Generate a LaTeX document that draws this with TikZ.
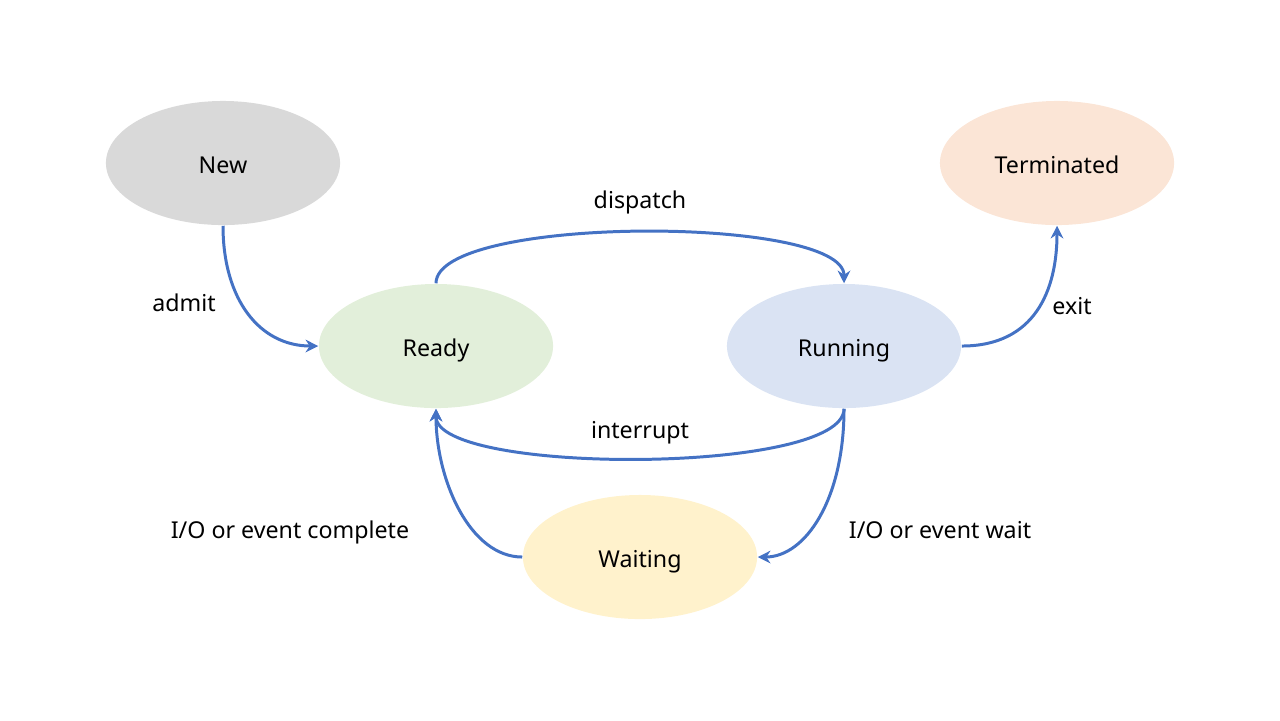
\documentclass[tikz,border=0pt]{standalone}
\usepackage{fontspec}
\setmainfont{Noto Sans}
\usetikzlibrary{shapes.geometric,arrows.meta}
\definecolor{cnew}{HTML}{D9D9D9}
\definecolor{cterm}{HTML}{FBE5D6}
\definecolor{cready}{HTML}{E2EFDA}
\definecolor{crun}{HTML}{DAE3F3}
\definecolor{cwait}{HTML}{FFF2CC}
\definecolor{carrow}{HTML}{4472C4}
\tikzset{
  txt/.style={font=\fontsize{6.6}{7.8}\selectfont, text height=5.7pt, text depth=0pt},
  state/.style={ellipse, minimum width=2.34cm, minimum height=1.24cm, inner sep=0pt, txt},
  lbl/.style={txt, inner sep=0pt},
  flow/.style={draw=carrow, line width=0.85pt, -{Stealth[length=3.6pt,width=3.6pt]}}
}
\begin{document}
\begin{tikzpicture}[x=0.01cm,y=-0.01cm]
\useasboundingbox (0,0) rectangle (1280,720);
\node[state, fill=cnew] (new) at (223,163) {New};
\node[state, fill=cterm] (term) at (1057,163) {Terminated};
\node[state, fill=cready] (ready) at (436,346) {Ready};
\node[state, fill=crun] (run) at (844,346) {Running};
\node[state, fill=cwait] (wait) at (640,557) {Waiting};

\draw[flow] (new.south) .. controls (223,300) and (260,346) .. (ready.west);
\draw[flow] (ready.north) .. controls (436,215) and (844,215) .. (run.north);
\draw[flow] (run.south) .. controls (844,475) and (436,475) .. (ready.south);
\draw[flow] (run.east) .. controls (1035,346) and (1057,290) .. (term.south);
\draw[flow] (run.south) .. controls (844,500) and (805,557) .. (wait.east);
\draw[flow] (wait.west) .. controls (470,557) and (436,480) .. (ready.south);

\node[lbl] (ldispatch) at (640,198) {dispatch};
\node[lbl] (ladmit) at (184,301) {admit};
\node[lbl] (lexit) at (1072,304) {exit};
\node[lbl] (linterrupt) at (640,428) {interrupt};
\node[lbl] (lcomplete) at (290,528) {I/O or event complete};
\node[lbl] (lwait) at (940,528) {I/O or event wait};
\end{tikzpicture}
\end{document}
